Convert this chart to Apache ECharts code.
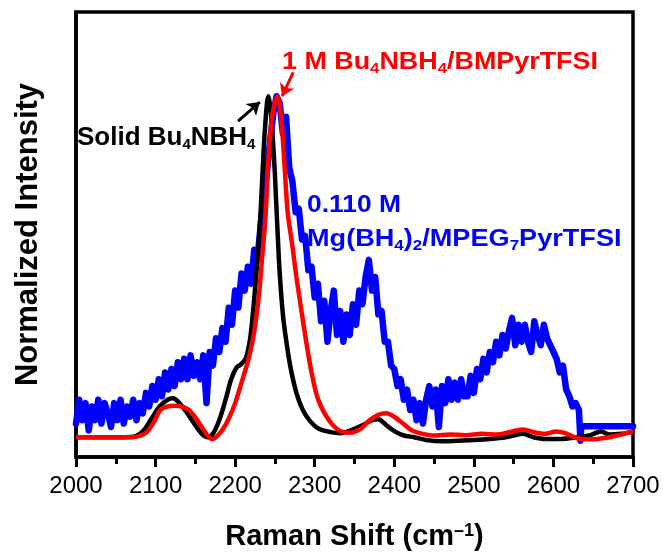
<!DOCTYPE html>
<html>
<head>
<meta charset="utf-8">
<script src="https://cdn.jsdelivr.net/npm/echarts@6/dist/echarts.min.js"></script>
<style>html,body{margin:0;padding:0;background:#fff}#c{width:664px;height:556px}</style>
</head>
<body>
<div id="c"></div>
<script>
// x ticks
var xTicks = [2000, 2100, 2200, 2300, 2400, 2500, 2600, 2700];

// Solid Bu4NBH4 (black) [shift, normalized intensity]
var solidData = [
  [2000,0.0],[2060,0.0],[2075,0.003],[2085,0.02],[2095,0.055],[2105,0.09],[2115,0.11],[2122,0.114],
  [2130,0.10],[2140,0.07],[2150,0.035],[2158,0.01],[2166,0.0],[2172,0.01],[2180,0.05],[2188,0.11],
  [2195,0.17],[2202,0.205],[2208,0.215],[2214,0.235],[2220,0.31],[2228,0.52],[2232,0.66],[2236,0.85],
  [2240,0.98],[2242,1.0],[2245,0.95],[2250,0.77],[2255,0.52],[2260,0.36],[2265,0.27],[2270,0.2],
  [2277,0.13],[2285,0.08],[2295,0.045],[2305,0.025],[2320,0.015],[2332,0.012],[2345,0.02],[2360,0.035],
  [2372,0.05],[2380,0.053],[2390,0.035],[2400,0.018],[2412,0.005],[2425,0.0],[2440,-0.008],[2460,-0.012],
  [2480,-0.01],[2500,-0.008],[2520,-0.005],[2540,0.0],[2555,0.008],[2562,0.01],[2575,0.0],[2590,-0.005],
  [2610,-0.005],[2630,0.0],[2645,0.005],[2660,0.017],[2670,0.008],[2685,0.01],[2700,0.015]
];

// 1 M Bu4NBH4/BMPyrTFSI (red)
var bmpyrData = [
  [2000,0.0],[2070,0.0],[2080,0.004],[2089,0.015],[2098,0.045],[2106,0.08],[2115,0.09],[2125,0.092],
  [2135,0.088],[2142,0.08],[2150,0.058],[2158,0.03],[2165,0.006],[2171,-0.006],[2178,0.005],[2185,0.025],
  [2192,0.055],[2200,0.1],[2210,0.175],[2218,0.24],[2224,0.31],[2230,0.42],[2234,0.53],[2238,0.64],
  [2242,0.82],[2247,0.95],[2253,1.0],[2258,0.93],[2262,0.8],[2266,0.66],[2272,0.56],[2277,0.47],
  [2284,0.36],[2290,0.27],[2296,0.19],[2302,0.128],[2308,0.09],[2315,0.06],[2323,0.035],[2332,0.018],
  [2345,0.013],[2358,0.025],[2369,0.05],[2380,0.066],[2390,0.07],[2400,0.06],[2411,0.04],[2422,0.02],
  [2432,0.012],[2450,0.005],[2470,0.008],[2490,0.006],[2510,0.01],[2530,0.008],[2550,0.018],[2562,0.023],
  [2575,0.015],[2590,0.01],[2603,0.017],[2615,0.012],[2630,-0.003],[2650,-0.006],[2665,-0.002],[2680,0.005],
  [2700,0.017]
];

// 0.110 M Mg(BH4)2/MPEG7PyrTFSI (blue): spectrum sampled from 2000 every 4 cm-1
var mpegStart = 2000, mpegStep = 4;
var mpegY = [
  0.04,0.11,0.05,0.10,0.02,0.09,0.05,0.11,0.04,0.10,0.07,0.03,0.10,0.05,0.11,0.04,0.09,0.06,0.11,0.05,0.10,
  0.07,0.13,0.09,0.15,0.11,0.17,0.12,0.19,0.14,0.20,0.15,0.22,0.17,0.23,0.17,0.24,0.18,0.22,0.17,0.24,
  0.10,
  0.25,0.21,0.29,0.25,0.32,0.28,0.38,0.33,0.43,0.38,0.48,0.43,0.50,0.45,0.55,0.52,
  0.62,0.70,0.78,0.87,0.95,1.00,0.98,0.89,
  0.94,0.79,0.75,0.66,0.67,0.58,0.59,0.49,0.50,0.41,
  0.45,0.34,0.40,0.28,0.37,0.43,0.30,0.37,0.28,0.36,0.30,0.39,0.33,0.43,0.39,
  0.47,0.52,0.43,0.47,0.36,0.37,0.28,0.28,0.21,0.20,
  0.15,0.17,0.11,0.14,0.08,0.11,0.05,0.10,0.04,0.11,
  0.15,0.09,0.14,0.03,0.15,0.10,0.17,0.11,0.16,0.11,0.17,0.12,0.12,0.18,0.13,
  0.20,0.17,0.23,0.19,0.25,0.22,0.28,0.24,0.30,0.26,0.31,0.35,0.27,0.33,0.28,
  0.33,0.28,0.25,0.34,0.30,0.27,0.33,0.29,0.27,0.25,
  0.23,0.19,0.21,0.14,0.12,0.09,0.10,0.08
];
var mpegTail = [[2634,-0.01],[2635,0.032],[2700,0.032]];

var mpegData = mpegY.map(function(v,i){return [mpegStart + mpegStep*i, v];}).concat(mpegTail);

var FONT = '"Liberation Sans", Arial, sans-serif';
var chart = echarts.init(document.getElementById('c'), null, {renderer:'canvas'});

function label(x, y, text, color, sx, fs) {
  return {
    type:'text', x:x, y:y, scaleX:sx, z:100,
    style:{
      text:text, fill:color, fontFamily:FONT, fontWeight:'bold', fontSize:fs,
      lineHeight:28, verticalAlign:'middle', align:'left',
      rich:{
        n:{fontFamily:FONT, fontWeight:'bold', fontSize:fs, lineHeight:28, fill:color, verticalAlign:'middle'},
        s:{fontFamily:FONT, fontWeight:'bold', fontSize:15, lineHeight:4, fill:color, verticalAlign:'bottom'}
      }
    }
  };
}

var option = {
  animation:false,
  backgroundColor:'#fff',
  grid:{left:76, top:12, right:31, bottom:95, show:true, borderColor:'#000', borderWidth:3.5, backgroundColor:'transparent'},
  xAxis:{
    type:'value', min:2000, max:2700, interval:100,
    name:'Raman Shift (cm{sup|–1})', nameLocation:'middle', nameGap:65,
    nameTextStyle:{fontFamily:FONT, fontWeight:'bold', fontSize:29, color:'#000',
      rich:{sup:{fontFamily:FONT, fontWeight:'bold', fontSize:18, color:'#000', verticalAlign:'top', lineHeight:10}}},
    axisLine:{show:true, onZero:false, lineStyle:{color:'#000', width:3.5}},
    axisTick:{show:true, inside:false, length:10, lineStyle:{color:'#000', width:3}},
    minorTick:{show:true, splitNumber:2, length:7, lineStyle:{color:'#000', width:3}},
    axisLabel:{fontFamily:FONT, fontSize:24, color:'#000', margin:17,
      formatter:function(v){return xTicks.indexOf(v)>=0 ? String(v) : '';}},
    splitLine:{show:false}
  },
  yAxis:{
    type:'value', min:-0.058, max:1.247,
    name:'Normalized Intensity', nameLocation:'middle', nameGap:32, nameRotate:90,
    nameTextStyle:{fontFamily:FONT, fontWeight:'bold', fontSize:31, color:'#000'},
    axisLine:{show:true, onZero:false, lineStyle:{color:'#000', width:3.5}},
    axisTick:{show:false}, axisLabel:{show:false}, splitLine:{show:false}
  },
  series:[
    {name:'MPEG', type:'line', data:mpegData, showSymbol:false, z:2,
      lineStyle:{color:'#0000ff', width:6.5, join:'round', cap:'round'}},
    {name:'Solid', type:'line', data:solidData, showSymbol:false, smooth:0.3, z:3,
      lineStyle:{color:'#000', width:4.5},
      markLine:{silent:true, symbol:['none','arrow'], symbolSize:12, label:{show:false},
        lineStyle:{color:'#000', width:3, type:'solid'},
        data:[[{coord:[2203.6,0.927]},{coord:[2231,0.983]}]]}},
    {name:'BMPyr', type:'line', data:bmpyrData, showSymbol:false, smooth:0.3, z:4,
      lineStyle:{color:'#ff0000', width:4.5},
      markLine:{silent:true, symbol:['none','arrow'], symbolSize:12, label:{show:false},
        lineStyle:{color:'#ff0000', width:3, type:'solid'},
        data:[[{coord:[2273,1.07]},{coord:[2259,1.0]}]]}}
  ],
  graphic:[
    label(77, 138, '{n|Solid Bu}{s|4}{n|NBH}{s|4}', '#000', 1.0, 26),
    label(282, 62, '{n|1 M Bu}{s|4}{n|NBH}{s|4}{n|/BMPyrTFSI}', '#ff0000', 1.12, 24),
    label(307, 205, '{n|0.110 M}', '#0000ff', 1.1, 24),
    label(307, 239, '{n|Mg(BH}{s|4}{n|)}{s|2}{n|/MPEG}{s|7}{n|PyrTFSI}', '#0000ff', 1.13, 24)
  ]
};
chart.setOption(option);
</script>
</body>
</html>
